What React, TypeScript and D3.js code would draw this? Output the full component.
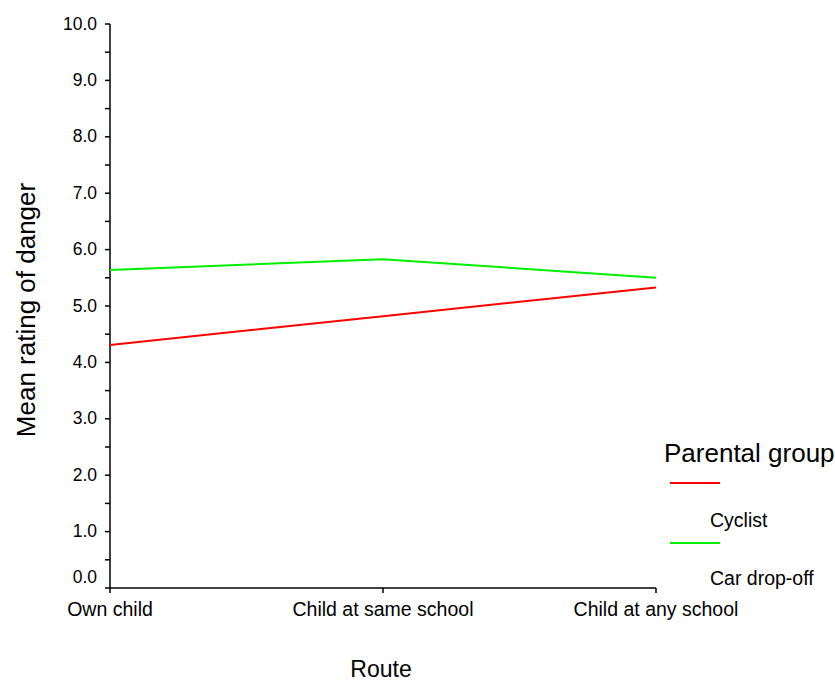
import React from "react";
import * as d3 from "d3";

const routes = ["Own child", "Child at same school", "Child at any school"];
const cyclist = [4.31, 4.82, 5.33];
const carDropOff = [5.64, 5.83, 5.5];
const yTicks = [0, 1, 2, 3, 4, 5, 6, 7, 8, 9, 10];
const yMinorTicks = [0.5, 1.5, 2.5, 3.5, 4.5, 5.5, 6.5, 7.5, 8.5, 9.5];
const seriesNames = ["Cyclist", "Car drop-off"];
const seriesColors = ["#ff0000", "#00ee00"];

const W = 835;
const H = 682;
const FONT = "'Liberation Sans', Arial, sans-serif";

export default function App() {
  const x = d3.scalePoint<string>().domain(routes).range([110, 656]);
  const y = d3.scaleLinear().domain([0, 10]).range([588, 24]);
  const line = d3
    .line<number>()
    .x((_, i) => x(routes[i]) as number)
    .y((d) => y(d));
  const series = [cyclist, carDropOff];

  return (
    <svg
      width={W}
      height={H}
      style={{ position: "absolute", left: 0, top: 0, background: "#fff" }}
      fontFamily={FONT}
    >
      {/* y axis */}
      <line x1={110} x2={110} y1={y(10)} y2={y(0)} stroke="#000" strokeWidth={1.5} />
      {yTicks.map((t) => (
        <g key={"t" + t}>
          <line x1={105} x2={110} y1={y(t)} y2={y(t)} stroke="#000" strokeWidth={1.5} />
          <text
            x={97}
            y={y(t) + (t === 0 ? -10 : 1)}
            textAnchor="end"
            dominantBaseline="middle"
            fontSize={17.5}
            fill="#000"
          >
            {t.toFixed(1)}
          </text>
        </g>
      ))}
      {yMinorTicks.map((t) => (
        <line key={"m" + t} x1={105} x2={110} y1={y(t)} y2={y(t)} stroke="#000" strokeWidth={1.5} />
      ))}
      {/* x axis */}
      <line x1={110} x2={656} y1={588} y2={588} stroke="#000" strokeWidth={1.5} />
      {routes.map((r) => (
        <g key={r}>
          <line x1={x(r)} x2={x(r)} y1={588} y2={593} stroke="#000" strokeWidth={1.5} />
          <text x={x(r)} y={616} textAnchor="middle" fontSize={19.5} fill="#000">
            {r}
          </text>
        </g>
      ))}
      {/* titles */}
      <text x={381} y={677} textAnchor="middle" fontSize={23} fill="#000">
        Route
      </text>
      <text
        transform="translate(35,310) rotate(-90)"
        textAnchor="middle"
        fontSize={26}
        fill="#000"
      >
        Mean rating of danger
      </text>
      {/* lines */}
      {series.map((s, i) => (
        <path key={i} d={line(s) || ""} fill="none" stroke={seriesColors[i]} strokeWidth={2} />
      ))}
      {/* legend */}
      <text x={664} y={462} fontSize={26} fill="#000">
        Parental group
      </text>
      {seriesNames.map((n, i) => (
        <g key={n}>
          <line x1={670} x2={720} y1={483 + i * 60} y2={483 + i * 60} stroke={seriesColors[i]} strokeWidth={2} />
          <text x={710} y={527 + i * 58} fontSize={19.5} fill="#000">
            {n}
          </text>
        </g>
      ))}
    </svg>
  );
}
